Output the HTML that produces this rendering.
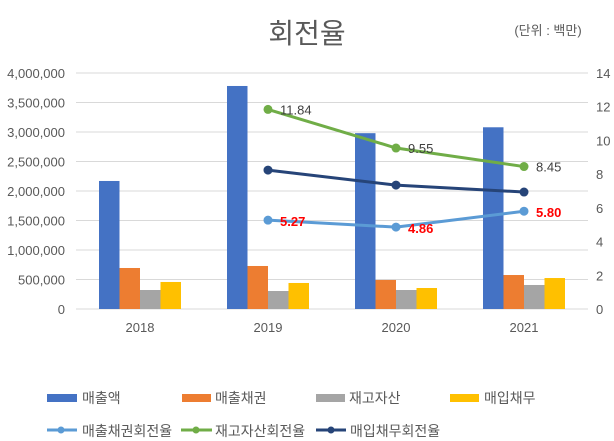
<!DOCTYPE html>
<html><head><meta charset="utf-8"><style>
body{margin:0;background:#fff;}
svg{display:block;font-family:"Liberation Sans","Noto Sans CJK KR",sans-serif;}
</style></head><body>
<svg id="chart" width="614" height="441">
<text x="307" y="43" text-anchor="middle" font-size="28" fill="#595959">회전율</text>
<text x="548" y="35" text-anchor="middle" font-size="13" fill="#595959">(단위 : 백만)</text>
<g id="grid"></g><g id="bars"></g><g id="lines"></g><g id="axes"></g>
<g font-size="14" fill="#595959">
<rect x="47" y="394" width="30" height="8" fill="#4472C4"/>
<text x="82" y="403">매출액</text>
<rect x="182" y="394" width="29" height="8" fill="#ED7D31"/>
<text x="215" y="403">매출채권</text>
<rect x="316" y="394" width="29" height="8" fill="#A5A5A5"/>
<text x="349" y="403">재고자산</text>
<rect x="450" y="394" width="29" height="8" fill="#FFC000"/>
<text x="484" y="403">매입채무</text>
<line x1="47" y1="430" x2="77" y2="430" stroke="#5B9BD5" stroke-width="3"/><circle cx="61" cy="430" r="3.5" fill="#5B9BD5"/>
<text x="82" y="436">매출채권회전율</text>
<line x1="181" y1="430" x2="212" y2="430" stroke="#70AD47" stroke-width="3"/><circle cx="196" cy="430" r="3.5" fill="#70AD47"/>
<text x="215" y="436">재고자산회전율</text>
<line x1="316" y1="430" x2="346" y2="430" stroke="#264478" stroke-width="3"/><circle cx="331" cy="430" r="3.5" fill="#264478"/>
<text x="350" y="436">매입채무회전율</text>
</g>
</svg>
<script>
const categories=["2018","2019","2020","2021"];
const sales=[2170000,3780000,2980000,3080000];
const receivables=[695000,729000,492000,576000];
const inventory=[322000,305000,322000,407000];
const payables=[458000,441000,356000,525000];
const recTurnover=[null,5.27,4.86,5.80];
const invTurnover=[null,11.84,9.55,8.45];
const payTurnover=[null,8.24,7.35,6.94];
const leftTicks=[0,500000,1000000,1500000,2000000,2500000,3000000,3500000,4000000];
const rightTicks=[0,2,4,6,8,10,12,14];

const NS="http://www.w3.org/2000/svg";
const X0=76,X1=588,Y0=309,Y1=73;
const yL=v=>Y0-(v/4000000)*(Y0-Y1);
const yR=v=>Y0-(v/14)*(Y0-Y1);
const bw=(X1-X0)/categories.length;
const xc=i=>X0+bw*(i+0.5);
function mk(tag,attrs,parent){const e=document.createElementNS(NS,tag);for(const k in attrs)e.setAttribute(k,attrs[k]);parent.appendChild(e);return e;}
const grid=document.getElementById('grid'),axes=document.getElementById('axes'),bars=document.getElementById('bars'),lines=document.getElementById('lines');
leftTicks.forEach(t=>{
 const l=mk('line',{x1:X0,x2:X1,y1:yL(t),y2:yL(t),stroke:'#D9D9D9','stroke-width':1},grid);
 
 
 const tx=mk('text',{x:65,y:yL(t)+5,'text-anchor':'end','font-size':13,fill:'#595959'},axes);
 tx.textContent=t.toLocaleString('en-US');
 
 
});
rightTicks.forEach(t=>{
 const tx=mk('text',{x:596,y:yR(t)+5,'font-size':13,fill:'#595959'},axes);
 tx.textContent=t;
 
 
});
categories.forEach((c,i)=>{
 const tx=mk('text',{x:xc(i),y:332,'text-anchor':'middle','font-size':13,fill:'#595959'},axes);
 tx.textContent=c;
 
 
});
const series=[[sales,'#4472C4','bar-sales'],[receivables,'#ED7D31','bar-receivables'],[inventory,'#A5A5A5','bar-inventory'],[payables,'#FFC000','bar-payables']];
const barW=20.5;
categories.forEach((c,i)=>{
 series.forEach((s,j)=>{
  const x=xc(i)-2*barW+j*barW;
  const r=mk('rect',{x:x,y:yL(s[0][i]),width:barW,height:Y0-yL(s[0][i]),fill:s[1]},bars);
  
  
 });
});
const lineSeries=[[payTurnover,'#264478','line-payables-turnover',null],[invTurnover,'#70AD47','line-inventory-turnover','#404040'],[recTurnover,'#5B9BD5','line-receivables-turnover','#FF0000']];
lineSeries.forEach(s=>{
 const pts=[];
 s[0].forEach((v,i)=>{if(v!=null)pts.push([xc(i),yR(v),v]);});
 const p=mk('polyline',{points:pts.map(p=>p[0]+','+p[1]).join(' '),fill:'none',stroke:s[1],'stroke-width':3,'stroke-linejoin':'round'},lines);
 
 
 pts.forEach(pt=>{
  const m=mk('circle',{cx:pt[0],cy:pt[1],r:4.5,fill:s[1]},lines);
  
  
  if(s[3]){
   const red=s[3]==='#FF0000';
   const t=mk('text',{x:pt[0]+12,y:pt[1]+(red?6:5),'font-size':13,fill:s[3],'font-weight':red?'bold':'normal'},lines);
   t.textContent=pt[2].toFixed(2);
   
   
  }
 });
});
</script>
</body></html>
